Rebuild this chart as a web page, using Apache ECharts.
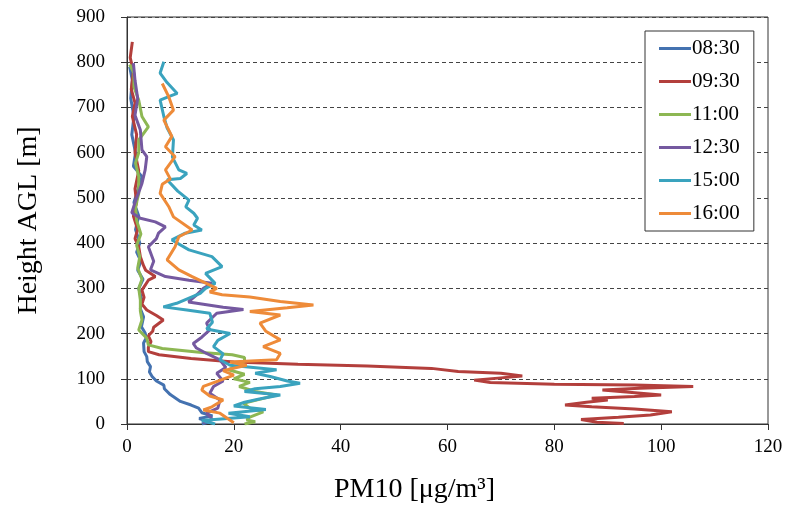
<!DOCTYPE html>
<html>
<head>
<meta charset="utf-8">
<script src="https://cdn.jsdelivr.net/npm/echarts@6/dist/echarts.min.js"></script>
<style>
  html, body { margin: 0; padding: 0; background: #fff; }
  #chart { width: 791px; height: 518px; }
</style>
</head>
<body>
<div id="chart"></div>
<script>
// profiles: [PM10 (µg/m3), height AGL (m)]
const p0830 = [[14,0],[15.5,5],[13.5,12],[16,18],[14,25],[13.4,35],[12,42],[10,50],[8.1,65],[7,78],[6.9,86],[5.5,95],[4.7,105],[4.2,115],[4.4,127],[3.8,138],[3.7,149],[3.2,160],[3.1,179],[3.6,190],[3.4,201],[2.7,215],[3.1,237],[2.5,255],[2.8,274],[2.2,300],[3,320],[2,340],[2.6,360],[1.8,380],[2.4,400],[1.6,430],[2.2,460],[1.3,490],[2.8,547],[1.2,570],[1.6,600],[0.9,640],[1.3,680],[0.7,720],[1,760],[0.5,790]];
const p0930 = [[93,1],[88,4],[85,10],[92,15],[98,20],[102,27],[95,33],[87,38],[82,42],[86,48],[90,53],[87,57],[95,61],[100,64],[94,70],[89,75],[96,79],[106,83],[95,86],[80,88],[68,92],[65,97],[70,102],[74,106],[70,112],[62,116],[57,123],[45,128],[32,132],[20,137],[12,145],[6,153],[4,160],[4,170],[4.5,182],[4,195],[4.8,205],[5,214],[6.8,230],[5.5,240],[3.7,252],[2.8,265],[3.2,280],[2.8,296],[4,318],[5.3,326],[3.5,340],[3.1,350],[2.5,370],[2.2,392],[1.5,410],[2,430],[1.2,460],[1.8,490],[1.5,520],[2.2,560],[1.5,600],[1.8,640],[1,680],[1.5,710],[0.8,740],[1.2,780],[0.6,810],[1,845]];
const p1100 = [[22,0],[24,5],[22.4,9],[23,15],[25.5,27],[23,35],[21.8,46],[25,55],[28,64],[24,72],[21,83],[23,92],[20,100],[22,110],[19,120],[21,130],[22,140],[22,147],[19.7,153],[14,158],[6.6,167],[4,175],[3.7,190],[2.2,208],[2.8,230],[2.5,250],[2.5,274],[2.2,300],[2.8,320],[2,345],[2.4,370],[1.8,395],[2.6,420],[1.8,450],[1.6,480],[2.2,510],[2.2,547],[1.6,577],[2.2,600],[2.2,628],[4,657],[2.8,680],[2.2,716],[1.3,745],[1.3,776],[0.5,795]];
const p1230 = [[14.2,3],[16,10],[14.9,24],[17,35],[17.4,53],[15.5,68],[16.2,83],[18,95],[16.8,112],[18.5,125],[17.4,142],[14.9,156],[13,168],[12.4,178],[14,192],[15.5,208],[14.9,223],[16.8,245],[21.8,253],[18,258],[11.5,270],[13,285],[14.3,300],[15.9,311],[11.6,318],[7.2,326],[4.4,341],[5,360],[4,392],[5.5,410],[5.9,422],[7.2,436],[5.3,447],[2.5,455],[0.9,467],[1.5,490],[2.8,532],[3.4,562],[3.7,591],[2.8,606],[2.5,650],[1.5,683],[2,720],[1.5,760],[1.2,798]];
const p1500 = [[16.5,0],[14,8],[23,16],[19,24],[26,32],[20,40],[22,48],[25,56],[28.7,64],[22,72],[24,78],[28.7,83],[32.4,90],[30,95],[26.8,105],[24,112],[28,120],[19.3,130],[17.4,142],[18,155],[16.2,171],[17,185],[19.3,200],[14.9,210],[16,225],[15.5,245],[11.2,252],[6.8,259],[9.3,267],[13.7,289],[14.7,300],[16.5,311],[14.7,333],[17.8,348],[15.9,370],[11.6,385],[8.4,407],[10.9,422],[14,429],[12.5,440],[13.2,455],[12.5,466],[11,480],[11.6,495],[9.5,515],[7.5,540],[10,543],[11.2,554],[9.7,562],[8.5,590],[8.7,628],[7.5,655],[6.9,680],[6.2,716],[7.8,724],[9.4,731],[7.5,755],[6.2,776],[6.9,801]];
const p1600 = [[20,3],[17.4,24],[14.3,31],[15.9,38],[18,53],[15.5,62],[14,75],[14.3,83],[17,95],[20,108],[18,118],[22.4,130],[19.3,137],[28,142],[28.7,156],[25.5,171],[28.7,186],[26,205],[24.9,223],[28.7,241],[23,249],[30,257],[34.9,263],[28.7,271],[23,281],[17.8,286],[15.5,292],[16.8,300],[16.5,304],[12.2,326],[9.7,341],[7.5,363],[9,392],[9.7,414],[12.2,429],[8.7,458],[7.8,481],[6.2,510],[6.6,530],[8.1,542],[7.2,562],[9,591],[7.2,613],[8.4,636],[6.9,672],[8.7,694],[7.8,724],[6.6,753]];

const seriesNames = ["08:30", "09:30", "11:00", "12:30", "15:00", "16:00"];
const seriesData = [p0830, p0930, p1100, p1230, p1500, p1600];
const colors = ["#4472B0", "#B33F3C", "#8DB753", "#7559A0", "#3AA3BE", "#EE8B39"];

const serif = "'Liberation Serif', 'DejaVu Serif', serif";

const chart = echarts.init(document.getElementById("chart"));

const option = {
  animation: false,
  color: colors,
  grid: {
    left: 127,
    right: 23,
    top: 17,
    bottom: 94,
    show: true,
    borderColor: "#333",
    borderWidth: 1,
  },
  legend: {
    orient: "vertical",
    left: 645,
    top: 31,
    data: seriesNames,
    icon: "rect",
    itemWidth: 32,
    itemHeight: 3,
    itemGap: 12,
    padding: [7, 14, 7, 14],
    backgroundColor: "#fff",
    borderColor: "#333",
    borderWidth: 1,
    borderRadius: 0,
    textStyle: { fontFamily: serif, fontSize: 21, color: "#000", lineHeight: 21, padding: [0, 0, 0, -4] },
  },
  xAxis: {
    type: "value",
    min: 0,
    max: 120,
    interval: 20,
    name: "PM10 [μg/m³]",
    nameLocation: "middle",
    nameGap: 52,
    nameTextStyle: { fontFamily: serif, fontSize: 28, color: "#000", padding: [0, 66, 0, 0] },
    axisLine: { lineStyle: { color: "#333" } },
    axisTick: { show: true, inside: false, length: 6, lineStyle: { color: "#333" } },
    axisLabel: { fontFamily: serif, fontSize: 19, color: "#000", margin: 14 },
    splitLine: { show: false },
  },
  yAxis: {
    type: "value",
    min: 0,
    max: 900,
    interval: 100,
    name: "Height AGL [m]",
    nameLocation: "middle",
    nameGap: 84,
    nameTextStyle: { fontFamily: serif, fontSize: 28, color: "#000" },
    axisLine: { show: true, lineStyle: { color: "#333" } },
    axisTick: { show: true, inside: false, length: 6, lineStyle: { color: "#333" } },
    axisLabel: { fontFamily: serif, fontSize: 19, color: "#000", margin: 22 },
    splitLine: { show: true, lineStyle: { color: "#444", type: [4, 3], width: 1 } },
  },
  series: seriesNames.map((name, i) => ({
    name: name,
    type: "line",
    data: seriesData[i],
    showSymbol: false,
    symbol: "none",
    smooth: false,
    lineStyle: { width: 3, color: colors[i] },
  })),
};

chart.setOption(option);
</script>
</body>
</html>
